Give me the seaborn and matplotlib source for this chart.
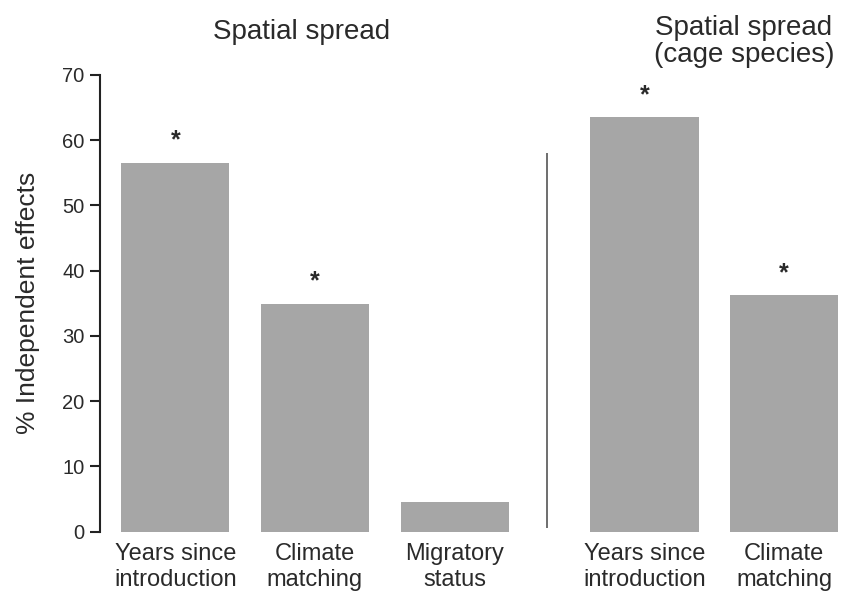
import matplotlib
matplotlib.use("Agg")
import matplotlib.pyplot as plt
import seaborn as sns
import pandas as pd

# Bar data: relative independent effects (%) of predictors of spatial spread
labels = ["Years since\nintroduction", "Climate\nmatching", "Migratory\nstatus",
          "Years since\nintroduction", "Climate\nmatching"]
values = [56.5, 34.9, 4.5, 63.5, 36.2]
significant = [True, True, False, True, True]
# x positions: two panels separated by a wider gap
positions = [0, 1, 2, 3.36, 4.36]
divider_x = 2.663
panel_titles = ["Spatial spread", "Spatial spread\n(cage species)"]

sns.set_style("ticks")
plt.rcParams["font.family"] = ["Liberation Sans", "DejaVu Sans"]
text_color = "#2a2a2a"
bar_color = "#a6a6a6"

df = pd.DataFrame({"pos": positions, "value": values})

fig = plt.figure(figsize=(8.43, 5.95), dpi=100)
ax = fig.add_axes([100 / 843, (595 - 531.5) / 595, 743 / 843, (531.5 - 75) / 595])

sns.barplot(data=df, x="pos", y="value", native_scale=True, width=0.774,
            color=bar_color, saturation=1, errorbar=None, linewidth=0, ax=ax)

ax.set_xlim(-0.539, 4.781)
ax.set_ylim(0, 70)
ax.set_yticks(range(0, 71, 10))
ax.set_xticks(positions)
ax.set_xticklabels(labels, fontsize=17, color=text_color, linespacing=1.24)
ax.tick_params(axis="x", length=0, pad=8)
ax.tick_params(axis="y", length=7.5, width=1.5, pad=3.5, labelsize=14.5,
               colors="#222222", labelcolor=text_color)

for side in ["top", "right", "bottom"]:
    ax.spines[side].set_visible(False)
ax.spines["left"].set_linewidth(1.5)
ax.spines["left"].set_color("#222222")

ax.set_xlabel("")
ax.set_ylabel("% Independent effects", fontsize=19, color=text_color)
ax.yaxis.set_label_coords(-0.081, 0.5)

# significance markers above bars
for x, v, sig in zip(positions, values, significant):
    if sig:
        ax.annotate("*", xy=(x, v), xytext=(0, 11), textcoords="offset points",
                    ha="center", va="baseline", fontsize=18, fontweight="bold",
                    color=text_color)

# separator between the two panels
ax.vlines(divider_x, 0.5, 58.0, color="#555555", linewidth=1.2)

# panel titles
fig.text(302 / 843, (595 - 39) / 595, panel_titles[0], ha="center",
         va="baseline", fontsize=20, color=text_color)
fig.text(744 / 843, (595 - 62) / 595, panel_titles[1], ha="center",
         va="baseline", fontsize=20, color=text_color, linespacing=1.05)

fig.savefig("out.png", dpi=100)
